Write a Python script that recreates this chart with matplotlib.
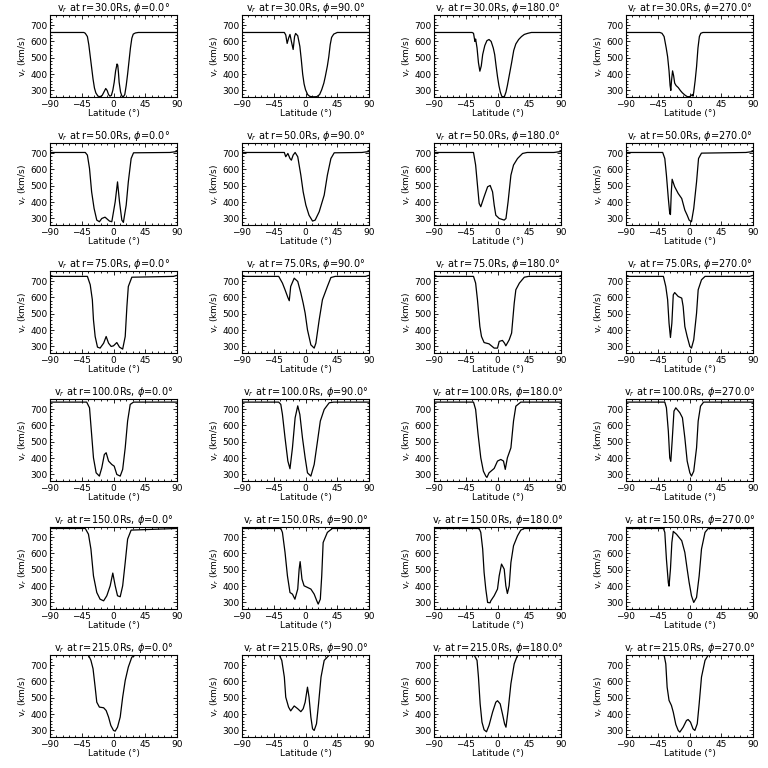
import matplotlib
matplotlib.use("Agg")
import matplotlib.pyplot as plt
from matplotlib.ticker import MultipleLocator

radii = [30.0, 50.0, 75.0, 100.0, 150.0, 215.0]
phis = [0.0, 90.0, 180.0, 270.0]
xticks = [-90, -45, 0, 45, 90]
yticks = [300, 400, 500, 600, 700]

# r = 30 Rs
lat_30_0 = [-90, -42, -40, -37, -35, -33, -31, -29, -27, -25, -22, -19, -16, -13, -11, -9, -7, -5, -3, -1, 1, 3, 5, 6, 7, 8, 10, 12, 14, 16, 18, 20, 22, 24, 26, 28, 31, 35, 90]
v_30_0 = [655, 655, 650, 630, 580, 510, 440, 370, 315, 285, 265, 262, 270, 295, 312, 300, 275, 265, 270, 300, 350, 420, 462, 455, 410, 350, 290, 265, 262, 275, 330, 400, 480, 560, 620, 645, 652, 655, 655]
lat_30_90 = [-90, -30, -28, -26, -24, -22, -20, -17.5, -15.5, -14, -11, -8, -6, -4, -2, 0, 3, 6, 10, 16, 20, 23, 26, 28, 31, 33, 35, 37, 40, 45, 90]
v_30_90 = [655, 655, 640, 588, 620, 643, 600, 551, 630, 649, 635, 570, 490, 400, 340, 305, 275, 264, 261, 262, 275, 305, 345, 384, 450, 506, 580, 625, 645, 655, 655]
lat_30_180 = [-90, -36, -34, -32, -31, -29, -27, -25, -23, -21, -18, -15, -12, -9, -6, -4, -2, 0, 2, 4, 6, 8, 10, 12, 14, 17, 20, 23, 26, 30, 34, 38, 43, 48, 90]
v_30_180 = [655, 655, 650, 600, 615, 560, 470, 418, 450, 520, 575, 605, 612, 600, 560, 520, 450, 384, 330, 290, 265, 260, 265, 290, 330, 400, 470, 545, 585, 612, 630, 643, 650, 655, 655]
lat_30_270 = [-90, -42, -39, -36, -33, -31, -29, -27.5, -26.5, -25.5, -24, -22.5, -21, -19, -16, -13, -10, -6, -3, 0, 2, 4, 5, 6, 8, 10, 12, 14, 16, 19, 90]
v_30_270 = [655, 655, 650, 630, 560, 506, 420, 330, 300, 360, 420, 390, 345, 330, 318, 300, 285, 270, 262, 262, 268, 275, 265, 290, 360, 445, 560, 630, 650, 655, 655]

# r = 50 Rs
lat_50_0 = [-90, -40, -37, -34, -31, -27.5, -23.7, -20, -16.6, -12, -5.7, -2.4, 2.4, 5.7, 8.5, 11.8, 14, 18, 21, 25, 28.4, 80, 90]
v_50_0 = [704, 704, 688, 606, 463, 361, 290, 280, 300, 308, 284, 280, 402, 524, 402, 290, 276, 382, 524, 667, 702, 704, 710]
lat_50_90 = [-90, -30, -28, -25, -22, -20, -17.5, -14.7, -11, -6.6, -3.3, 0.5, 5, 10, 13.7, 19.4, 26.5, 31, 36, 40.7, 80, 90]
v_50_90 = [704, 704, 678, 698, 667, 657, 688, 704, 678, 565, 463, 382, 320, 284, 290, 341, 443, 565, 667, 702, 704, 710]
lat_50_180 = [-90, -34, -31, -28.4, -26, -23.7, -19, -14, -10.4, -7, -4.7, -2.4, 2.4, 9.5, 12, 15, 19, 22.7, 28.4, 35.5, 42, 80, 90]
v_50_180 = [704, 704, 627, 504, 392, 372, 433, 494, 502, 463, 382, 320, 300, 290, 300, 402, 565, 627, 667, 698, 704, 704, 710]
lat_50_270 = [-90, -38, -35, -32.7, -30, -28, -27, -25.8, -24.6, -21, -16, -11, -6.6, -3.3, -0.5, 2.8, 6, 10, 12.8, 17, 80, 90]
v_50_270 = [704, 704, 667, 565, 422, 330, 324, 460, 540, 494, 453, 422, 351, 320, 290, 280, 361, 524, 667, 700, 704, 710]

# r = 75 Rs
lat_75_0 = [-90, -37, -33, -30, -28.4, -26, -22.7, -19, -14, -10.4, -7, -3.3, 0, 4.7, 8.5, 13, 16.6, 19, 21, 26, 85, 90]
v_75_0 = [729, 729, 678, 586, 463, 361, 296, 290, 320, 361, 320, 300, 304, 324, 296, 284, 361, 545, 667, 724, 729, 735]
lat_75_90 = [-90, -38, -32.7, -29, -25, -23, -21, -16, -11, -6.6, -3.3, -0.5, 2.8, 7.6, 12.3, 14.7, 19.4, 24, 31, 36, 42, 85, 90]
v_75_90 = [729, 729, 688, 647, 600, 580, 667, 718, 698, 627, 565, 504, 402, 310, 290, 320, 463, 586, 667, 722, 729, 729, 735]
lat_75_180 = [-90, -34, -31, -28.4, -25, -22.7, -19, -12, -4.7, 0, 2.4, 7, 10, 11.8, 16.6, 20, 23.7, 26, 31, 38, 44, 90]
v_75_180 = [729, 729, 688, 586, 422, 361, 324, 316, 290, 290, 331, 337, 320, 304, 341, 382, 565, 647, 688, 724, 729, 729]
lat_75_270 = [-90, -37, -33.6, -31, -29, -27, -25, -23, -21, -16, -11, -9, -6.6, -3.3, 0.5, 2.8, 6, 10, 12.3, 17, 22, 85, 90]
v_75_270 = [729, 729, 667, 586, 443, 355, 443, 616, 630, 606, 596, 545, 422, 361, 300, 290, 341, 504, 647, 708, 729, 729, 735]

# r = 100 Rs
lat_100_0 = [-90, -38, -34, -31, -28.4, -24.6, -20, -16.6, -13, -10.4, -7, -2.4, 1, 4.7, 9.5, 13, 16.6, 20, 23.7, 28.4, 90]
v_100_0 = [743, 743, 708, 545, 402, 310, 290, 341, 422, 433, 382, 361, 351, 300, 290, 331, 463, 627, 729, 743, 743]
lat_100_90 = [-90, -38, -35, -32.7, -29, -25, -22, -18.5, -14.7, -11, -8, -4.3, -0.5, 2.8, 7.6, 12.3, 17, 21, 26.5, 33.6, 40, 90]
v_100_90 = [743, 743, 729, 667, 524, 382, 335, 463, 647, 720, 667, 524, 402, 310, 290, 361, 504, 627, 698, 739, 743, 743]
lat_100_180 = [-90, -34, -31, -27.5, -23.7, -20, -16.6, -15, -12, -4.7, 0, 4.7, 8.5, 11, 14, 19, 22.7, 26, 33, 90]
v_100_180 = [743, 743, 698, 545, 402, 320, 290, 282, 310, 337, 382, 392, 382, 331, 402, 463, 627, 718, 743, 743]
lat_100_270 = [-90, -35, -32.7, -30, -28, -26.5, -24.6, -22, -19.4, -13.7, -10, -6.6, -3.3, 0.5, 2.8, 6, 10, 12.3, 15.6, 20, 90]
v_100_270 = [743, 743, 708, 565, 402, 380, 504, 688, 708, 678, 647, 524, 382, 310, 290, 320, 463, 627, 718, 743, 743]

# r = 150 Rs
lat_150_0 = [-90, -40, -35.5, -32, -28.4, -23.7, -19, -14, -9.5, -4.7, -1, 2.4, 5.7, 9.5, 13, 16.6, 20, 25, 90]
v_150_0 = [753, 753, 718, 627, 463, 361, 320, 310, 341, 402, 480, 402, 341, 335, 402, 545, 688, 743, 753]
lat_150_90 = [-90, -35, -32.7, -29, -25.6, -22, -18.5, -15, -11, -9, -7.6, -5, -2, 2.8, 7.6, 12.3, 16, 18, 21, 23, 25, 31, 38, 90]
v_150_90 = [753, 753, 729, 606, 463, 361, 351, 320, 382, 504, 550, 443, 402, 392, 382, 351, 310, 290, 320, 463, 667, 729, 753, 753]
lat_150_180 = [-90, -26, -23.7, -21, -19, -16.6, -14, -10.5, -9.5, -4.7, 0, 2.4, 5.7, 9.5, 11.8, 14, 16.6, 19, 22.7, 28.4, 33, 38, 90]
v_150_180 = [753, 753, 729, 627, 484, 382, 300, 298, 310, 341, 382, 463, 535, 504, 402, 355, 402, 545, 647, 708, 743, 753, 753]
lat_150_270 = [-90, -37, -35, -32.7, -30, -29, -27, -25, -23, -18.5, -11, -6.6, -3.3, -0.5, 2.8, 6, 10, 13.7, 17, 22, 26.5, 90]
v_150_270 = [753, 753, 729, 565, 420, 400, 504, 667, 735, 718, 678, 606, 504, 422, 341, 300, 331, 463, 627, 729, 753, 753]

# r = 215 Rs
lat_215_0 = [-90, -35.5, -32, -29, -26, -23.7, -20, -14, -10.4, -7, -3.8, 0, 2.4, 5.7, 9.5, 13, 16.6, 21, 26, 31, 90]
v_215_0 = [761, 761, 729, 678, 565, 473, 443, 439, 422, 382, 331, 300, 296, 320, 382, 504, 606, 688, 749, 761, 761]
lat_215_90 = [-90, -37, -33.6, -30, -28, -24, -21, -16, -11, -6.6, -3.3, -0.5, 2.8, 5, 7.6, 10, 12.3, 15.6, 18.5, 22, 26.5, 33.6, 90]
v_215_90 = [761, 761, 729, 627, 504, 443, 420, 450, 433, 415, 433, 473, 565, 504, 382, 310, 300, 341, 463, 627, 729, 761, 761]
lat_215_180 = [-90, -33, -29, -27, -24.6, -22, -19, -15.6, -12, -7, -2.4, 0, 3.8, 7, 10, 12, 15, 19, 23.7, 28.4, 90]
v_215_180 = [761, 761, 729, 627, 463, 351, 304, 292, 331, 412, 473, 482, 463, 402, 341, 320, 422, 586, 708, 761, 761]
lat_215_270 = [-90, -36, -33.6, -31.7, -29, -25.6, -23, -19.4, -16, -13.7, -9, -4.3, -2, 1.4, 5, 7.6, 11, 13.7, 17, 22, 26.5, 90]
v_215_270 = [761, 761, 708, 565, 484, 453, 412, 337, 300, 290, 320, 361, 367, 351, 310, 300, 341, 463, 627, 729, 761, 761]

series = {
    (30.0, 0): (lat_30_0, v_30_0), (30.0, 1): (lat_30_90, v_30_90),
    (30.0, 2): (lat_30_180, v_30_180), (30.0, 3): (lat_30_270, v_30_270),
    (50.0, 0): (lat_50_0, v_50_0), (50.0, 1): (lat_50_90, v_50_90),
    (50.0, 2): (lat_50_180, v_50_180), (50.0, 3): (lat_50_270, v_50_270),
    (75.0, 0): (lat_75_0, v_75_0), (75.0, 1): (lat_75_90, v_75_90),
    (75.0, 2): (lat_75_180, v_75_180), (75.0, 3): (lat_75_270, v_75_270),
    (100.0, 0): (lat_100_0, v_100_0), (100.0, 1): (lat_100_90, v_100_90),
    (100.0, 2): (lat_100_180, v_100_180), (100.0, 3): (lat_100_270, v_100_270),
    (150.0, 0): (lat_150_0, v_150_0), (150.0, 1): (lat_150_90, v_150_90),
    (150.0, 2): (lat_150_180, v_150_180), (150.0, 3): (lat_150_270, v_150_270),
    (215.0, 0): (lat_215_0, v_215_0), (215.0, 1): (lat_215_90, v_215_90),
    (215.0, 2): (lat_215_180, v_215_180), (215.0, 3): (lat_215_270, v_215_270),
}

W = H = 768
fig = plt.figure(figsize=(W / 100, H / 100), dpi=100)
plt.rcParams['font.family'] = ['DejaVu Sans']

box_l, box_w = 50, 127
box_t, box_h = 15, 82
for ri, r in enumerate(radii):
    for ci, phi in enumerate(phis):
        left = (box_l + 192 * ci) / W
        bottom = 1 - (box_t + box_h + 128 * ri) / H
        ax = fig.add_axes([left, bottom, box_w / W, box_h / H])
        lat, v = series[(r, ci)]
        ax.plot(lat, v, color='black', lw=0.9)
        ax.set_xlim(-90, 90)
        ax.set_ylim(260, 762)
        ax.set_xticks(xticks)
        ax.set_yticks(yticks)
        ax.xaxis.set_minor_locator(MultipleLocator(9))
        ax.yaxis.set_minor_locator(MultipleLocator(20))
        ax.tick_params(which='both', direction='in', top=True, right=True,
                       labelsize=6.5, pad=2, width=0.6)
        ax.tick_params(which='major', length=3)
        ax.tick_params(which='minor', length=1.5)
        for s in ax.spines.values():
            s.set_linewidth(0.8)
        ax.set_title(f'v$_r$ at r={r:.1f}Rs, $\\phi$={phi:.1f}°', fontsize=7, pad=2)
        ax.set_xlabel('Latitude (°)', fontsize=6.5, labelpad=0)
        ax.set_ylabel('v$_r$ (km/s)', fontsize=6.5, labelpad=1)

fig.savefig('out.png', dpi=100)
